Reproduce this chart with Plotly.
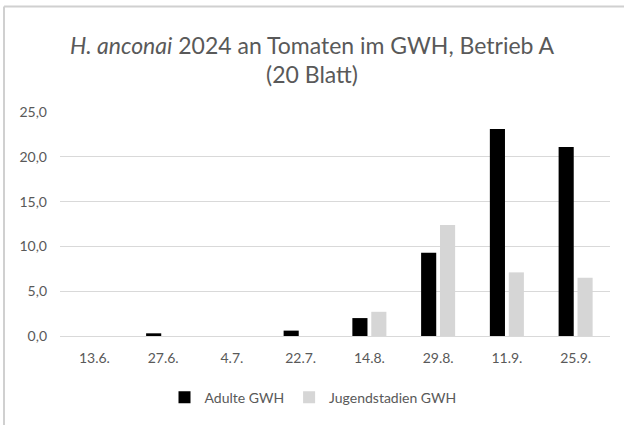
import plotly.graph_objects as go

categories = ["13.6.", "27.6.", "4.7.", "22.7.", "14.8.", "29.8.", "11.9.", "25.9."]
adulte = [0.0, 0.3, 0.0, 0.6, 2.0, 9.3, 23.1, 21.1]
jugend = [0.0, 0.0, 0.0, 0.0, 2.7, 12.4, 7.1, 6.5]
y_ticks = [0, 5, 10, 15, 20, 25]

TXT = "#595959"
FONT = "Lato"

fig = go.Figure()
fig.add_trace(go.Bar(x=categories, y=adulte, name="Adulte GWH",
                     marker=dict(color="#000000", line=dict(width=0))))
fig.add_trace(go.Bar(x=categories, y=jugend, name="Jugendstadien GWH",
                     marker=dict(color="#d6d6d6", line=dict(width=0))))

fig.update_layout(
    width=624, height=425,
    margin=dict(l=60, r=14, t=112, b=88),
    paper_bgcolor="white", plot_bgcolor="white",
    separators=",.",
    font=dict(family=FONT, color=TXT, size=14),
    title=dict(text="<i>H. anconai</i> 2024 an Tomaten im GWH, Betrieb A<br>(20 Blatt)",
               x=0.5, xanchor="center", y=0.874, yanchor="middle",
               font=dict(family=FONT, size=23, color=TXT)),
    barmode="group", bargap=0.45, bargroupgap=0.2,
    showlegend=True,
    legend=dict(orientation="h", x=0.46, xanchor="center", y=-0.27, yanchor="middle",
                font=dict(family=FONT, size=14, color=TXT), itemwidth=30,
                traceorder="normal"),
    xaxis=dict(showgrid=False, showline=True, linecolor="#d9d9d9", linewidth=1,
               ticks="", tickfont=dict(size=14, color=TXT), ticklabelstandoff=9),
    yaxis=dict(range=[0, 25], tickvals=y_ticks, tickformat=".1f",
               showgrid=True, gridcolor="#d9d9d9", gridwidth=1,
               zeroline=False, showline=False, ticks="",
               tickfont=dict(size=14, color=TXT), ticklabelstandoff=12),
    shapes=[
        dict(type="line", xref="paper", yref="paper", x0=-0.1018, x1=1.03, y0=1.471, y1=1.471,
             line=dict(color="#d0d0d0", width=2)),
        dict(type="line", xref="paper", yref="paper", x0=-0.1018, x1=-0.1018, y0=1.471, y1=-0.4,
             line=dict(color="#d0d0d0", width=2)),
    ],
)

fig.write_html("out.html", config={"displayModeBar": False},
               post_script="document.body.style.margin='0';")
